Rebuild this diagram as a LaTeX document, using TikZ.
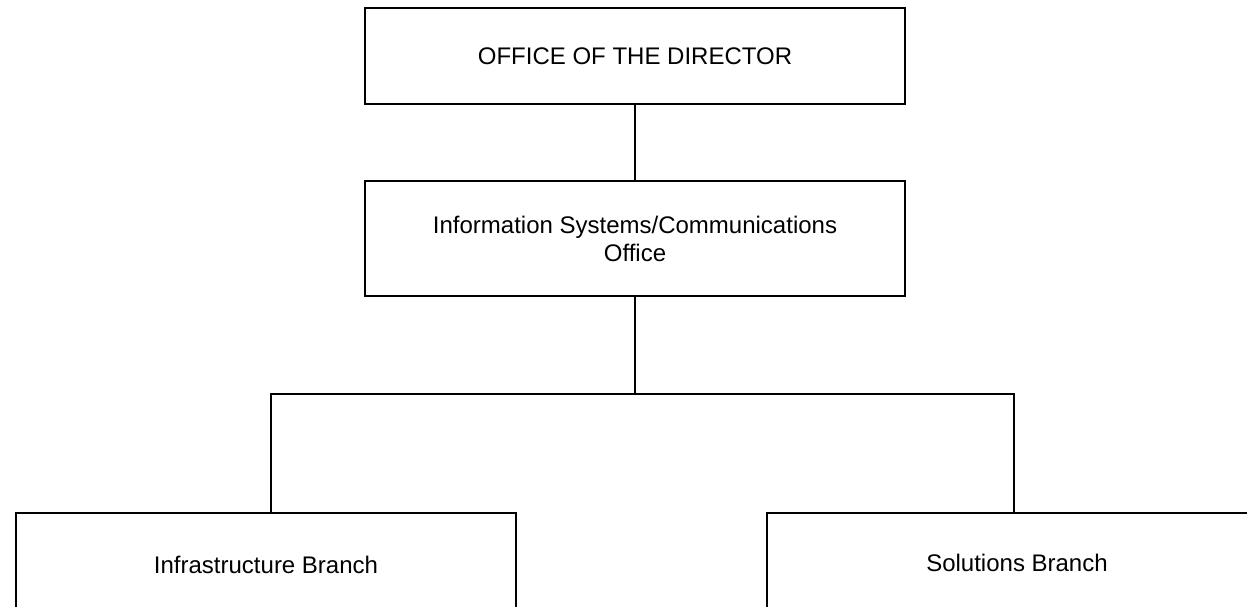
\documentclass[tikz,border=0pt]{standalone}
\usepackage{fontspec}
\setmainfont{Liberation Sans}
\begin{document}
\begin{tikzpicture}[x=1pt,y=-1pt,
  box/.style={draw, line width=1.8pt, inner sep=0pt, align=center, font=\fontsize{24}{28}\selectfont},
  conn/.style={draw, line width=1.8pt}]
\useasboundingbox (0,0) rectangle (1247,607);
\clip (0,0) rectangle (1247,607);
\fill[white] (0,0) rectangle (1247,607);
\node[box, minimum width=540pt, minimum height=96pt] (dir) at (635,56) {OFFICE OF THE DIRECTOR};
\node[box, minimum width=540pt, minimum height=115pt] (iso) at (635,238.5) {Information Systems/Communications\\Office};
\node[box, minimum width=500pt, minimum height=104pt] (infra) at (266,565) {Infrastructure Branch};
\node[box, minimum width=500pt, minimum height=100pt] (sol) at (1017,563) {Solutions Branch};
\coordinate (j) at (635,394);
\coordinate (jl) at (271,394);
\coordinate (jr) at (1014,394);
\path[conn] (dir.south) -- (iso.north);
\path[conn] (iso.south) -- (j);
\path[conn] (jl |- infra.north) -- (jl) -- (jr) -- (jr |- sol.north);
\end{tikzpicture}
\end{document}
